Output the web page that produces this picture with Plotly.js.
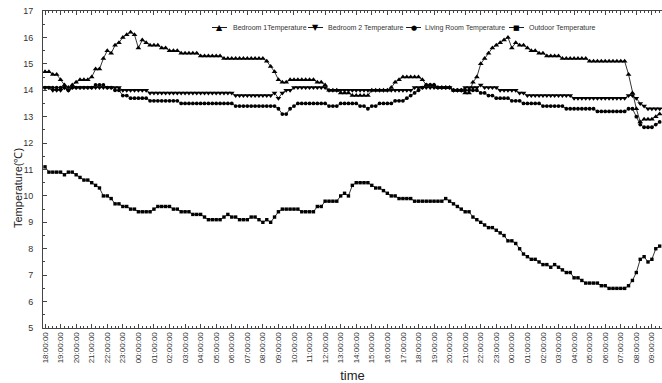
<!DOCTYPE html>
<html>
<head>
<meta charset="utf-8">
<script src="https://cdn.plot.ly/plotly-3.0.1.min.js"></script>
<style>html,body{margin:0;padding:0;background:#fff;}#chart{width:662px;height:383px;}</style>
</head>
<body>
<div id="chart"></div>
<script>
// Sampling: one reading every 15 minutes starting 18:00
const startTime = '2000-01-01T18:00:00';
const stepMinutes = 15;
const seriesNames = ['Bedroom 1Temperature', 'Bedroom 2 Temperature', 'Living Room Temperature', 'Outdoor Temperature'];
const legendGlyphs = ['▲', '▼', '●', '■'];

const bedroom1 = [
  14.7,14.7,14.6,14.6, 14.4,14.2,14.1,14.2, 14.3,14.4,14.4,14.4, 14.5,14.8,14.8,15.2,
  15.5,15.4,15.7,15.8, 16.0,16.1,16.2,16.1, 15.6,15.9,15.8,15.7, 15.7,15.7,15.6,15.6,
  15.5,15.5,15.5,15.4, 15.4,15.4,15.4,15.4, 15.3,15.3,15.3,15.3, 15.3,15.3,15.2,15.2,
  15.2,15.2,15.2,15.2, 15.2,15.2,15.2,15.2, 15.2,15.1,14.9,14.7, 14.4,14.3,14.3,14.4,
  14.4,14.4,14.4,14.4, 14.4,14.4,14.3,14.3, 14.2,14.0,14.0,14.0, 13.9,13.9,13.9,13.8,
  13.8,13.8,13.8,13.8, 14.0,14.0,14.0,14.0, 14.0,14.1,14.3,14.4, 14.5,14.5,14.5,14.5,
  14.5,14.4,14.2,14.2, 14.2,14.1,14.1,14.1, 14.1,14.0,14.0,14.0, 13.9,13.9,14.3,14.5,
  15.0,15.2,15.4,15.6, 15.7,15.8,15.9,16.0, 15.6,15.8,15.7,15.7, 15.6,15.5,15.5,15.4,
  15.4,15.3,15.3,15.3, 15.3,15.2,15.2,15.2, 15.2,15.2,15.2,15.2, 15.1,15.1,15.1,15.1,
  15.1,15.1,15.1,15.1, 15.1,15.1,14.6,13.9, 13.3,12.8,12.9,12.9, 12.9,13.0,13.1
];
const bedroom2 = [
  14.1,14.1,14.0,14.0, 14.0,14.1,14.0,14.1, 14.1,14.1,14.1,14.1, 14.1,14.1,14.1,14.1,
  14.1,14.1,14.1,14.1, 14.0,14.0,14.0,14.0, 14.0,14.0,14.0,13.9, 13.9,13.9,13.9,13.9,
  13.9,13.9,13.9,13.9, 13.9,13.9,13.9,13.9, 13.9,13.9,13.9,13.9, 13.9,13.9,13.9,13.9,
  13.9,13.8,13.8,13.8, 13.8,13.8,13.8,13.8, 13.8,13.8,13.8,13.9, 13.7,13.9,14.0,14.0,
  14.1,14.1,14.1,14.1, 14.1,14.1,14.1,14.1, 14.1,14.0,14.0,14.0, 14.0,14.0,14.0,14.0,
  14.0,14.0,14.0,14.0, 14.0,14.0,14.0,14.0, 14.0,14.0,14.0,14.0, 14.0,14.0,14.0,14.1,
  14.1,14.1,14.1,14.1, 14.1,14.1,14.1,14.1, 14.1,14.0,14.0,14.0, 14.1,14.1,14.1,14.1,
  14.2,14.1,14.1,14.1, 14.1,14.0,14.0,14.0, 14.0,14.0,13.9,13.9, 13.8,13.8,13.8,13.8,
  13.8,13.8,13.8,13.8, 13.8,13.8,13.8,13.8, 13.7,13.7,13.7,13.7, 13.7,13.7,13.7,13.7,
  13.7,13.7,13.7,13.7, 13.7,13.7,13.8,13.8, 13.7,13.5,13.4,13.3, 13.3,13.3,13.3
];
const livingRoom = [
  14.1,14.1,14.1,14.1, 14.1,14.1,14.0,14.1, 14.1,14.1,14.1,14.1, 14.1,14.2,14.2,14.2,
  14.1,14.1,14.0,14.0, 13.8,13.8,13.7,13.7, 13.7,13.7,13.7,13.6, 13.6,13.6,13.6,13.6,
  13.6,13.6,13.6,13.5, 13.5,13.5,13.5,13.5, 13.5,13.5,13.5,13.5, 13.5,13.5,13.5,13.5,
  13.5,13.4,13.4,13.4, 13.4,13.4,13.4,13.4, 13.4,13.4,13.4,13.4, 13.3,13.1,13.1,13.3,
  13.4,13.5,13.5,13.5, 13.5,13.5,13.5,13.5, 13.5,13.4,13.4,13.4, 13.5,13.5,13.5,13.5,
  13.5,13.4,13.4,13.3, 13.4,13.4,13.5,13.5, 13.5,13.5,13.6,13.6, 13.6,13.7,13.8,13.9,
  14.0,14.1,14.2,14.2, 14.2,14.1,14.1,14.1, 14.1,14.0,14.0,14.0, 14.0,14.0,14.0,14.0,
  13.9,13.9,13.8,13.8, 13.7,13.7,13.7,13.7, 13.6,13.6,13.6,13.5, 13.5,13.5,13.5,13.5,
  13.4,13.4,13.4,13.4, 13.4,13.4,13.3,13.3, 13.3,13.3,13.3,13.3, 13.3,13.3,13.2,13.2,
  13.2,13.2,13.2,13.2, 13.2,13.2,13.3,13.3, 13.0,12.7,12.6,12.6, 12.6,12.7,12.8
];
const outdoor = [
  11.1,10.9,10.9,10.9, 10.9,10.8,10.9,10.9, 10.8,10.7,10.6,10.6, 10.5,10.4,10.3,10.0,
  10.0,9.9,9.7,9.7, 9.6,9.6,9.5,9.5, 9.4,9.4,9.4,9.4, 9.5,9.6,9.6,9.6,
  9.6,9.5,9.5,9.4, 9.4,9.4,9.3,9.3, 9.3,9.2,9.1,9.1, 9.1,9.1,9.2,9.3,
  9.2,9.2,9.1,9.1, 9.1,9.2,9.2,9.1, 9.0,9.1,9.0,9.2, 9.4,9.5,9.5,9.5,
  9.5,9.5,9.4,9.4, 9.4,9.4,9.6,9.6, 9.8,9.8,9.8,9.8, 10.0,10.1,10.0,10.4,
  10.5,10.5,10.5,10.5, 10.4,10.3,10.3,10.2, 10.1,10.0,10.0,9.9, 9.9,9.9,9.9,9.8,
  9.8,9.8,9.8,9.8, 9.8,9.8,9.8,9.9, 9.8,9.7,9.6,9.5, 9.4,9.4,9.2,9.1,
  9.0,8.9,8.8,8.8, 8.7,8.6,8.5,8.3, 8.3,8.2,8.0,7.8, 7.7,7.6,7.6,7.5,
  7.4,7.4,7.3,7.4, 7.3,7.2,7.1,7.1, 6.9,6.9,6.8,6.7, 6.7,6.7,6.7,6.6,
  6.6,6.5,6.5,6.5, 6.5,6.5,6.6,6.8, 7.1,7.6,7.7,7.5, 7.6,8.0,8.1
];
const symbols = ['triangle-up', 'triangle-down', 'circle', 'square'];
const markerSizes = [5, 5, 3.8, 3.4];

function pad(n){return (n<10?'0':'')+n;}
function timeAt(i){
  const d = new Date(Date.parse(startTime + 'Z') + i*stepMinutes*60000);
  return d.getUTCFullYear()+'-'+pad(d.getUTCMonth()+1)+'-'+pad(d.getUTCDate())+' '+pad(d.getUTCHours())+':'+pad(d.getUTCMinutes())+':00';
}
const times = bedroom1.map((_, i) => timeAt(i));

const allSeries = [bedroom1, bedroom2, livingRoom, outdoor];
const traces = allSeries.map((ys, k) => ({
  type: 'scatter', mode: 'lines+markers', name: seriesNames[k],
  x: times, y: ys,
  line: {color: '#000', width: 0.8},
  marker: {symbol: symbols[k], size: markerSizes[k], color: '#000', line: {width: 0}}
}));

// Compact legend (reference style): short line sample + glyph + label
const W = 662, H = 383, ML = 43, MR = 0, MT = 11, MB = 55;
const PW = W - ML - MR, PH = H - MT - MB;
const px2x = p => (p - ML) / PW;
const py2y = p => 1 - (p - MT) / PH;
const legY = 27.5;
const legLineStart = [212, 308, 406, 509];
const legTextStart = [231, 326, 423, 527];
const glyphSize = [8, 8, 7, 7];
const font = 'Liberation Sans, Arial, sans-serif';
const shapes = [], annotations = [];
seriesNames.forEach((nm, k) => {
  shapes.push({type: 'line', xref: 'paper', yref: 'paper',
    x0: px2x(legLineStart[k]), x1: px2x(legLineStart[k] + 15), y0: py2y(legY), y1: py2y(legY),
    line: {color: '#000', width: 0.9}});
  annotations.push({xref: 'paper', yref: 'paper', x: px2x(legLineStart[k] + 7.5), y: py2y(legY),
    xanchor: 'center', yanchor: 'middle', showarrow: false, text: legendGlyphs[k],
    font: {family: 'DejaVu Sans', size: glyphSize[k], color: '#000'}});
  annotations.push({xref: 'paper', yref: 'paper', x: px2x(legTextStart[k]), y: py2y(legY),
    xanchor: 'left', yanchor: 'middle', showarrow: false, text: nm,
    font: {family: font, size: 7, color: '#333'}});
});
annotations.push({xref: 'paper', yref: 'paper', x: px2x(18), y: py2y(188),
  xanchor: 'center', yanchor: 'middle', showarrow: false, textangle: -90,
  text: 'Temperature(℃)', font: {family: font, size: 11, color: '#222'}});

const layout = {
  width: W, height: H,
  margin: {l: ML, r: MR, t: MT, b: MB, pad: 0},
  paper_bgcolor: '#fff', plot_bgcolor: '#fff',
  showlegend: false,
  shapes: shapes, annotations: annotations,
  xaxis: {
    type: 'date',
    range: ['2000-01-01 17:52:12', '2000-01-03 09:39:00'],
    tick0: '2000-01-01 18:00:00', dtick: 3600000, tickformat: '%H:%M:%S',
    tickangle: -90, ticks: 'inside', ticklen: 4, tickcolor: '#444', tickwidth: 1,
    minor: {dtick: 900000, ticks: 'inside', ticklen: 2, tickcolor: '#444', showgrid: false},
    showline: true, linecolor: '#444', linewidth: 1, mirror: 'ticks',
    showgrid: false, zeroline: false,
    tickfont: {family: font, size: 8, color: '#333'},
    title: {text: 'time', font: {family: font, size: 13, color: '#222'}, standoff: 9}
  },
  yaxis: {
    range: [5, 17], dtick: 1, tick0: 5,
    ticks: 'inside', ticklen: 4, tickcolor: '#444', tickwidth: 1,
    minor: {dtick: 0.5, ticks: 'inside', ticklen: 2, tickcolor: '#444', showgrid: false},
    showline: true, linecolor: '#444', linewidth: 1, mirror: false,
    showgrid: false, zeroline: false, ticklabelstandoff: 7,
    tickfont: {family: font, size: 9, color: '#333'}
  }
};
Plotly.newPlot('chart', traces, layout, {displayModeBar: false, staticPlot: true});
</script>
</body>
</html>
